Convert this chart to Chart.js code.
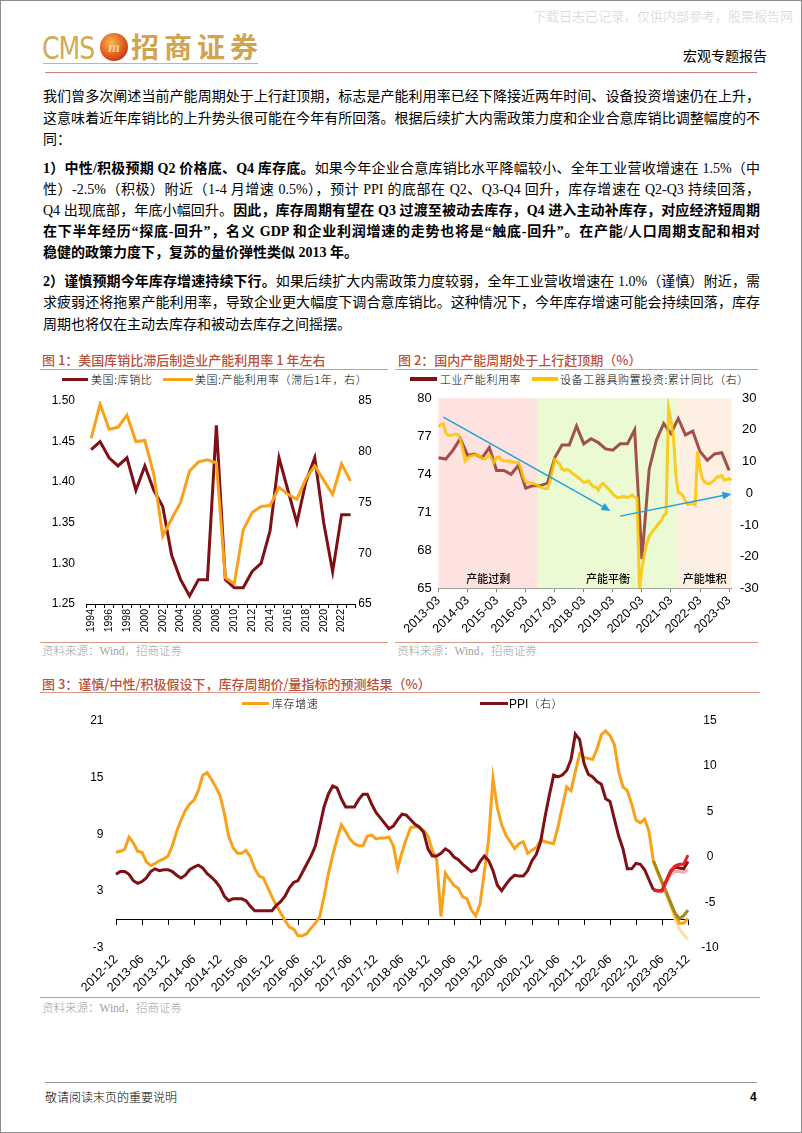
<!DOCTYPE html>
<html lang="zh-CN">
<head>
<meta charset="utf-8">
<title>宏观专题报告</title>
<script src="https://cdn.jsdelivr.net/npm/chart.js@4.4.1/dist/chart.umd.min.js"></script>
<style>
html,body{margin:0;padding:0;background:#fff;}
body{width:802px;height:1133px;position:relative;overflow:hidden;color:#000;font-family:"Liberation Serif","Noto Sans CJK SC",serif;}
.a{position:absolute;}
#frame{left:0;top:0;width:800px;height:1131px;border:1px solid #8c8c8c;pointer-events:none;}
#wm{left:533px;top:6px;font-size:13px;color:#d2d2d2;white-space:nowrap;font-family:"Noto Sans CJK SC";font-weight:300;}
#cms{left:42px;top:28px;font-family:"DejaVu Sans Condensed","Liberation Sans";font-size:28px;color:#d3aa55;letter-spacing:-1px;line-height:36px;transform:scaleY(1.15);transform-origin:left top;}
#logo{left:100px;top:33px;width:28px;height:28px;border-radius:50%;background:radial-gradient(circle at 40% 35%,#f7b850 0%,#e0581c 55%,#a21c10 100%);color:#f8d58a;font:italic bold 15px "Liberation Serif";text-align:center;line-height:28px;}
#zs{left:131px;top:27px;font-family:"Noto Sans CJK SC";font-weight:700;font-size:28px;color:#d0a452;letter-spacing:5px;line-height:38px;white-space:nowrap;}
#gold{left:43px;top:63px;width:215px;height:1px;background:#d9b36a;}
#rpt{left:683px;top:46px;font-size:14px;line-height:18px;font-family:"Noto Sans CJK SC";white-space:nowrap;}
#hr{left:45px;top:72px;width:712px;height:1px;background:#c9826f;}
.ln{left:43px;width:717px;font-size:14px;height:21.2px;line-height:21.2px;text-align:justify;text-align-last:justify;white-space:normal;overflow:visible;}
.ln.last{text-align-last:left;}
.ln b{font-weight:700;}
.ttl{font-family:"Noto Sans CJK SC";font-size:13px;line-height:18px;color:#b9503a;font-weight:500;white-space:nowrap;}
.tl{height:1px;background:#dc9483;}
.src{font-size:11.5px;line-height:16px;color:#a0a0a0;font-family:"Liberation Serif","Noto Sans CJK SC";font-weight:300;white-space:nowrap;}
.lg{font-family:"Noto Sans CJK SC";font-size:11px;line-height:16px;font-weight:300;white-space:nowrap;letter-spacing:0.6px;}
.sw{height:3px;}
canvas{position:absolute;}
#foot{left:45px;top:1082px;width:712px;height:1px;background:#9a9a9a;}
#ft{left:45px;top:1089px;font-size:12px;line-height:16px;font-family:"Noto Sans CJK SC";font-weight:300;}
#pg{left:750px;top:1089px;font-size:12px;line-height:16px;font-weight:700;font-family:"Liberation Sans";}
</style>
</head>
<body>
<div id="frame" class="a"></div>
<div id="wm" class="a">下载日志已记录，仅供内部参考，股票报告网</div>
<div id="cms" class="a">CMS</div>
<div id="logo" class="a">m</div>
<div id="zs" class="a">招商证券</div>
<div id="gold" class="a"></div>
<div id="rpt" class="a">宏观专题报告</div>
<div id="hr" class="a"></div>

<div class="ln a" style="top:86.4px">我们曾多次阐述当前产能周期处于上行赶顶期，标志是产能利用率已经下降接近两年时间、设备投资增速仍在上升，</div>
<div class="ln a" style="top:107.6px">这意味着近年库销比的上升势头很可能在今年有所回落。根据后续扩大内需政策力度和企业合意库销比调整幅度的不</div>
<div class="ln a last" style="top:128.8px">同：</div>

<div class="ln a" style="top:157.6px"><b>1）中性/积极预期 Q2 价格底、Q4 库存底。</b>如果今年企业合意库销比水平降幅较小、全年工业营收增速在 1.5%（中</div>
<div class="ln a" style="top:178.8px">性）-2.5%（积极）附近（1-4 月增速 0.5%），预计 PPI 的底部在 Q2、Q3-Q4 回升，库存增速在 Q2-Q3 持续回落，</div>
<div class="ln a" style="top:200px">Q4 出现底部，年底小幅回升。<b>因此，库存周期有望在 Q3 过渡至被动去库存，Q4 进入主动补库存，对应经济短周期</b></div>
<div class="ln a" style="top:221.2px"><b>在下半年经历“探底-回升”，名义 GDP 和企业利润增速的走势也将是“触底-回升”。在产能/人口周期支配和相对</b></div>
<div class="ln a last" style="top:242.4px"><b>稳健的政策力度下，复苏的量价弹性类似 2013 年。</b></div>

<div class="ln a" style="top:271.2px"><b>2）谨慎预期今年库存增速持续下行。</b>如果后续扩大内需政策力度较弱，全年工业营收增速在 1.0%（谨慎）附近，需</div>
<div class="ln a" style="top:292.4px">求疲弱还将拖累产能利用率，导致企业更大幅度下调合意库销比。这种情况下，今年库存增速可能会持续回落，库存</div>
<div class="ln a last" style="top:313.6px">周期也将仅在主动去库存和被动去库存之间摇摆。</div>

<!-- Figure 1 -->
<div class="ttl a" style="left:42px;top:351px">图 1：美国库销比滞后制造业产能利用率 1 年左右</div>
<div class="tl a" style="left:40px;top:369px;width:348px"></div>
<div class="sw a" style="left:62px;top:377.5px;width:26px;background:#7f1015"></div>
<div class="lg a" style="left:91px;top:371px">美国:库销比</div>
<div class="sw a" style="left:163px;top:377.5px;width:30px;background:#f9a11b"></div>
<div class="lg a" style="left:195px;top:371px">美国:产能利用率（滞后1年，右）</div>
<canvas id="c1" width="345" height="258" style="left:40px;top:382px"></canvas>
<div class="tl a" style="left:40px;top:642px;width:348px"></div>
<div class="src a" style="left:42px;top:643px">资料来源：Wind，招商证券</div>

<!-- Figure 2 -->
<div class="ttl a" style="left:398px;top:351px">图 2：国内产能周期处于上行赶顶期（%）</div>
<div class="tl a" style="left:395px;top:369px;width:363px"></div>
<div class="a" style="left:410px;top:377px;width:27px;height:4px;background:#7f1015"></div>
<div class="lg a" style="left:440px;top:371px">工业产能利用率</div>
<div class="a" style="left:532px;top:377px;width:26px;height:4px;background:#fcc400"></div>
<div class="lg a" style="left:560px;top:371px">设备工器具购置投资:累计同比（右）</div>
<canvas id="c2" width="370" height="258" style="left:395px;top:382px"></canvas>
<div class="tl a" style="left:395px;top:642px;width:363px"></div>
<div class="src a" style="left:397px;top:643px">资料来源：Wind，招商证券</div>

<!-- Figure 3 -->
<div class="ttl a" style="left:42px;top:675px">图 3：谨慎/中性/积极假设下，库存周期价/量指标的预测结果（%）</div>
<div class="tl a" style="left:40px;top:692px;width:720px"></div>
<canvas id="c3" width="720" height="296" style="left:40px;top:700px"></canvas>
<div class="sw a" style="left:242px;top:701.5px;width:27px;background:#f9a11b"></div>
<div class="lg a" style="left:272px;top:695px">库存增速</div>
<div class="sw a" style="left:480px;top:701.5px;width:28px;background:#7f1015"></div>
<div class="lg a" style="left:509px;top:695px"><span style="font-family:'Liberation Sans';font-weight:400;font-size:12px;letter-spacing:0">PPI</span>（右）</div>
<div class="tl a" style="left:40px;top:997px;width:720px"></div>
<div class="src a" style="left:42px;top:1000px">资料来源：Wind，招商证券</div>

<div id="foot" class="a"></div>
<div id="ft" class="a">敬请阅读末页的重要说明</div>
<div id="pg" class="a">4</div>

<script>
// ---------------- Data: Figure 1 ----------------
const years1 = ['1994','1995','1996','1997','1998','1999','2000','2001','2002','2003','2004','2005','2006','2007','2008','2009','2010','2011','2012','2013','2014','2015','2016','2017','2018','2019','2020','2021','2022','2023'];
const usInvSales = [1.44,1.45,1.43,1.42,1.43,1.39,1.42,1.39,1.37,1.31,1.28,1.26,1.28,1.28,1.47,1.28,1.27,1.27,1.29,1.30,1.34,1.43,1.39,1.35,1.40,1.43,1.35,1.29,1.36,1.36];
const usCapUtilLag = [81.3,84.7,82.2,82.4,83.6,81.0,81.1,77.8,71.7,73.4,75.0,78.1,79.0,79.2,78.9,67.6,67.0,72.3,74.0,74.6,74.7,76.5,75.8,75.3,77.3,78.6,77.2,75.8,78.8,77.1];

// ---------------- Data: Figure 2 ----------------
const months2 = [];
for (let y = 2013, m = 3; months2.length < 122; m++) { if (m > 12) { m = 1; y++; } months2.push(y + '-' + String(m).padStart(2, '0')); }
const quarterEnds2 = months2.filter((_, i) => i % 3 === 0);
const cnCapUtil = [75.3,75.2,75.9,76.8, 75.5,75.6,75.3,76.1, 74.3,74.3,74.0,74.7, 72.9,73.1,73.1,73.3, 75.3,76.3,76.3,77.8, 76.4,76.8,76.5,76.0, 75.9,76.4,76.4,77.5, 67.3,74.4,76.7,78.0, 77.2,78.4,77.1,77.4, 75.8,75.1,75.6,75.7, 74.3];
const equipInvYoY = [
  21.0,21.7,21.9,19.0,18.3,18.3,18.4,18.7,18.5,17.3,14.0,10.2,
  11.0,11.7,11.9,12.1,12.2,11.7,11.1,10.8,11.5,12.2,10.8,9.7,
  11.2,11.5,10.5,10.2,10.2,10.2,10.0,9.8,9.7,9.7,8.0,5.0,
  3.6,3.4,3.2,3.1,2.8,2.4,2.0,1.7,1.5,1.5,3.5,7.0,
  10.7,10.0,9.2,7.6,7.2,7.5,7.2,6.5,5.9,5.4,4.8,4.1,
  3.4,3.6,3.9,2.8,2.0,2.0,1.0,2.5,3.1,2.3,1.5,0.7,
  -0.3,-0.9,-1.4,-1.3,-1.0,-1.1,-1.4,-1.0,-0.5,-1.3,-1.5,-30.5,
  -24.0,-19.5,-16.0,-13.5,-12.5,-11.5,-10.5,-9.5,-8.7,-7.0,-6.5,27.0,
  23.0,18.0,6.0,0.2,0.0,-1.0,-2.5,-3.6,-3.3,-3.2,-3.6,13.2,
  8.0,4.5,3.5,3.1,3.0,3.6,4.2,5.1,5.3,5.6,4.1,4.4,
  4.6,4.1];
const zones2 = [
  {from: '2013-03', to: '2016-08', color: '#fde2df', label: '产能过剩'},
  {from: '2016-08', to: '2021-06', color: '#ebfad3', label: '产能平衡'},
  {from: '2021-06', to: '2023-04', color: '#fdf0e2', label: '产能堆积'}
];
const arrows2 = [ {from: ['2013-05', 78.5], to: ['2019-02', 71.1]}, {from: ['2019-06', 70.7], to: ['2023-04', 72.45]} ];

// ---------------- Data: Figure 3 ----------------
const months3 = [];
for (let y = 2012, m = 12; months3.length < 133; m++) { if (m > 12) { m = 1; y++; } months3.push(y + '-' + String(m).padStart(2, '0')); }
const invGrowth = [
  7.1,7.2,7.4,8.7,8.1,7.2,7.1,6.1,5.7,5.9,6.2,6.4,
  6.7,7.8,9.3,10.5,11.5,12.2,12.6,13.6,15.2,15.5,14.8,14.0,
  13.1,11.2,8.8,7.6,7.0,7.0,7.3,6.6,5.4,4.6,4.4,3.4,
  2.4,1.5,0.7,-0.1,-0.8,-1.0,-1.7,-1.7,-1.5,-0.9,-0.4,0.3,
  2.4,4.8,6.8,8.5,10.0,9.3,8.5,8.0,7.8,7.8,8.8,8.9,
  8.5,8.6,8.6,8.7,7.8,5.4,7.1,8.5,9.7,9.8,9.7,9.4,
  8.8,7.3,6.3,0.3,4.9,4.2,3.6,3.3,2.4,2.2,1.0,0.4,
  1.6,5.0,8.5,14.9,11.8,10.0,8.9,8.2,7.5,8.0,8.2,7.0,
  7.3,7.6,8.4,8.2,8.1,8.0,9.8,11.9,14.0,13.6,15.6,17.5,
  17.1,17.0,16.9,18.0,19.5,19.9,19.4,18.5,15.6,14.0,13.6,12.2,
  10.5,10.2,10.6,9.3,6.2];
const ppi = [
  -1.9,-1.6,-1.6,-1.9,-2.6,-2.9,-2.7,-2.3,-1.6,-1.3,-1.5,-1.4,
  -1.4,-1.6,-2.0,-2.3,-2.0,-1.4,-1.1,-0.9,-1.2,-1.8,-2.2,-2.7,
  -3.3,-4.3,-4.8,-4.6,-4.6,-4.6,-4.8,-5.4,-5.9,-5.9,-5.9,-5.9,
  -5.9,-5.3,-4.9,-4.3,-3.4,-2.8,-2.6,-1.7,-0.8,0.1,1.2,3.3,
  5.5,6.9,7.8,7.6,6.4,5.5,5.5,5.5,6.3,6.9,6.9,5.8,
  4.9,4.3,3.7,3.1,3.4,4.1,4.7,4.6,4.1,3.6,3.3,2.7,
  0.9,0.1,0.1,0.4,0.9,0.6,0.0,-0.3,-0.8,-1.2,-1.6,-1.4,
  -0.5,0.1,-0.4,-1.5,-3.1,-3.7,-3.0,-2.4,-2.0,-2.1,-2.1,-1.5,
  -0.4,0.3,1.7,4.4,6.8,9.0,8.8,9.0,9.5,10.7,13.5,12.9,
  10.3,9.1,8.8,8.3,8.0,6.4,6.1,4.2,2.3,0.9,-1.3,-1.3,
  -0.7,-0.8,-1.4,-2.5,-3.6];
// forecasts start 2023-04 (index 124)
const invOlive  = [6.2,5.1,4.0,2.9,1.8,0.7,0.1,0.4,1.0];
const invOrange = [6.2,5.0,3.9,2.8,1.6,0.5,-0.4,-0.4,0.1];
const invLight  = [6.2,5.0,3.8,2.6,1.4,0.1,-1.0,-1.6,-2.1];
const ppiRed    = [-3.6,-3.7,-3.7,-2.6,-1.5,-1.0,-0.8,-0.8,0.2];
const ppiDark   = [-3.6,-3.7,-3.7,-2.6,-1.6,-1.1,-1.2,-1.3,-0.5];
const ppiPink   = [-3.6,-3.8,-3.8,-2.8,-1.9,-1.6,-1.6,-1.7,-1.4];
const forecastStart = months3.indexOf('2023-04');

// ---------------- Common ----------------
Chart.defaults.font.family = "'Liberation Sans', Arial, sans-serif";
Chart.defaults.color = '#000';
Chart.defaults.animation = false;
const baseOpts = {responsive: false, maintainAspectRatio: false, animation: false,
  plugins: {legend: {display: false}, tooltip: {enabled: false}}};
const line = (data, color, yAxisID, w) => ({data, borderColor: color, backgroundColor: color, yAxisID, xAxisID: 'x', borderWidth: w || 3, pointRadius: 0, tension: 0, fill: false, spanGaps: false});
const pad = n => Array(n).fill(null);
const noGrid = {display: false, drawTicks: false, tickLength: 0};

// ---------------- Figure 1 ----------------
new Chart(document.getElementById('c1'), {
  type: 'line',
  data: {labels: years1, datasets: [
    line(usCapUtilLag, '#f9a11b', 'yR'),
    line(usInvSales, '#7f1015', 'yL')
  ]},
  options: Object.assign({}, baseOpts, {
    layout: {padding: {top: 9.7, left: 0, right: 0, bottom: 0}},
    scales: {
      x: {type: 'category', offset: true,
        grid: {display: true, drawOnChartArea: false, drawTicks: true, tickLength: 4, color: '#000', offset: true},
        border: {display: true, color: '#000', width: 1},
        ticks: {autoSkip: false, maxRotation: 90, minRotation: 90, padding: 1, font: {size: 10.5},
          callback: (v, i) => (i % 2 === 0 ? years1[i] : '')},
        afterFit: s => { s.height = 36; }},
      yL: {position: 'left', min: 1.25, max: 1.5,
        ticks: {stepSize: 0.05, padding: 11.7, font: {size: 12}, callback: v => Number(v).toFixed(2)},
        grid: noGrid, border: {display: false},
        afterFit: s => { s.width = 46.7; }},
      yR: {position: 'right', min: 65, max: 85,
        ticks: {stepSize: 5, padding: 3.3, font: {size: 12}},
        grid: noGrid, border: {display: false},
        afterFit: s => { s.width = 30; }}
    }
  })
});

// ---------------- Figure 2 ----------------
const zonePlugin = {
  id: 'zones2',
  beforeDatasetsDraw(chart) {
    const {ctx, chartArea: a, scales: {x}} = chart;
    ctx.save();
    zones2.forEach((z, k) => {
      const x1 = k === 0 ? a.left : x.getPixelForValue(months2.indexOf(z.from));
      const x2 = k === zones2.length - 1 ? a.right : x.getPixelForValue(months2.indexOf(z.to));
      ctx.fillStyle = z.color;
      ctx.fillRect(x1, a.top, x2 - x1, a.bottom - a.top);
      ctx.fillStyle = '#000';
      ctx.font = "500 11px 'Noto Sans CJK SC'";
      ctx.textAlign = 'center';
      ctx.textBaseline = 'middle';
      ctx.fillText(z.label, (x1 + x2) / 2, a.bottom - 9);
    });
    ctx.restore();
  },
  afterDatasetsDraw(chart) {
    const {ctx, scales: {x, yL}} = chart;
    ctx.save();
    ctx.strokeStyle = '#1f9fdc';
    ctx.fillStyle = '#1f9fdc';
    ctx.lineWidth = 1.4;
    arrows2.forEach(ar => {
      const x1 = x.getPixelForValue(months2.indexOf(ar.from[0])), y1 = yL.getPixelForValue(ar.from[1]);
      const x2 = x.getPixelForValue(months2.indexOf(ar.to[0])), y2 = yL.getPixelForValue(ar.to[1]);
      const L = Math.hypot(x2 - x1, y2 - y1), ux = (x2 - x1) / L, uy = (y2 - y1) / L;
      const hl = 9, hw = 4;
      ctx.beginPath(); ctx.moveTo(x1, y1); ctx.lineTo(x2 - ux * hl * 0.8, y2 - uy * hl * 0.8); ctx.stroke();
      ctx.beginPath();
      ctx.moveTo(x2, y2);
      ctx.lineTo(x2 - ux * hl - uy * hw, y2 - uy * hl + ux * hw);
      ctx.lineTo(x2 - ux * hl + uy * hw, y2 - uy * hl - ux * hw);
      ctx.closePath(); ctx.fill();
    });
    ctx.restore();
  }
};
new Chart(document.getElementById('c2'), {
  type: 'line',
  data: {labels: months2, datasets: [
    line(equipInvYoY, 'rgba(252,196,0,0.85)', 'yR'),
    line(cnCapUtil.map((v, q) => ({x: quarterEnds2[q], y: v})), 'rgba(128,18,18,0.72)', 'yL')
  ]},
  options: Object.assign({}, baseOpts, {
    layout: {padding: {top: 9.7, left: 0, right: 0, bottom: 0}},
    scales: {
      x: {type: 'category', offset: false,
        grid: {display: true, drawOnChartArea: false, drawTicks: true, tickLength: 4,
          color: c => (c.index % 12 === 0 ? '#808080' : 'rgba(0,0,0,0)')},
        border: {display: true, color: '#808080', width: 1},
        ticks: {autoSkip: false, maxRotation: 45, minRotation: 45, padding: 1, font: {size: 12.5},
          callback: (v, i) => (i % 12 === 0 ? months2[i] : '')},
        afterFit: s => { s.height = 51.7; }},
      yL: {position: 'left', min: 65, max: 80,
        ticks: {stepSize: 3, padding: 6.8, font: {size: 13}},
        grid: noGrid, border: {display: false},
        afterFit: s => { s.width = 43.5; }},
      yR: {position: 'right', min: -30, max: 30,
        ticks: {stepSize: 10, padding: 8.4, crossAlign: 'center', font: {size: 13}},
        grid: noGrid, border: {display: false},
        afterFit: s => { s.width = 33.5; }}
    }
  }),
  plugins: [zonePlugin]
});

// ---------------- Figure 3 ----------------
new Chart(document.getElementById('c3'), {
  type: 'line',
  data: {labels: months3, datasets: [
    line(pad(forecastStart).concat(ppiRed), '#ee1c25', 'yR'),
    line(pad(forecastStart).concat(ppiDark), '#7f1015', 'yR'),
    line(ppi, '#7f1015', 'yR'),
    line(pad(forecastStart).concat(ppiPink), '#f6a9b0', 'yR'),
    line(pad(forecastStart).concat(invOlive), '#a08b1c', 'yL'),
    line(pad(forecastStart).concat(invOrange), '#f9a11b', 'yL'),
    line(pad(forecastStart).concat(invLight), '#fbe2a4', 'yL'),
    line(invGrowth, '#f9a11b', 'yL')
  ]},
  options: Object.assign({}, baseOpts, {
    layout: {padding: {top: 11.7, left: 0, right: 0, bottom: 0}},
    scales: {
      x: {type: 'category', position: 'bottom', offset: false,
        grid: noGrid, border: {display: false},
        ticks: {autoSkip: false, maxRotation: 45, minRotation: 45, padding: 4, font: {size: 12.5},
          callback: (v, i) => (i % 6 === 0 ? months3[i] : '')},
        afterFit: s => { s.height = 48; }},
      x0: {type: 'category', axis: 'x', position: {yL: 0}, offset: false,
        grid: {display: true, drawOnChartArea: false, drawTicks: true, tickLength: 5,
          color: c => (c.index % 6 === 0 ? '#000' : 'rgba(0,0,0,0)')},
        border: {display: true, color: '#000', width: 1},
        ticks: {display: false, autoSkip: false}},
      yL: {position: 'left', min: -3, max: 21,
        ticks: {stepSize: 6, padding: 12.5, font: {size: 12}},
        grid: noGrid, border: {display: false},
        afterFit: s => { s.width = 76; }},
      yR: {position: 'right', min: -10, max: 15,
        ticks: {stepSize: 5, padding: 13.3, crossAlign: 'center', font: {size: 12}},
        grid: noGrid, border: {display: false},
        afterFit: s => { s.width = 72; }}
    }
  })
});
</script>
</body>
</html>
